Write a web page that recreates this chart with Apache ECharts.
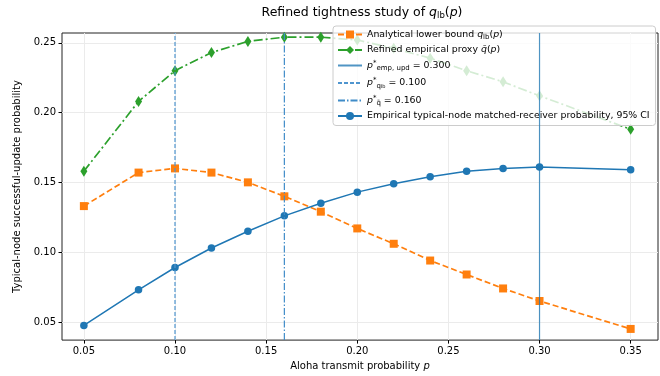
<!DOCTYPE html>
<html>
<head>
<meta charset="utf-8">
<script src="https://cdn.jsdelivr.net/npm/echarts@6/dist/echarts.min.js"></script>
<style>
  html, body { margin: 0; padding: 0; background: #fff; }
  #chart { width: 660px; height: 376px; }
</style>
</head>
<body>
<div id="chart"></div>
<script>
// transmit probabilities on the x axis
const pValues = [0.05, 0.08, 0.10, 0.12, 0.14, 0.16, 0.18, 0.20, 0.22, 0.24, 0.26, 0.28, 0.30, 0.35];

// empirical matched-receiver probability (blue)
const empirical = [0.0475, 0.073, 0.089, 0.103, 0.115, 0.126, 0.135, 0.143, 0.149, 0.154, 0.158, 0.160, 0.161, 0.159];
// analytical lower bound q_lb(p) (orange)
const lowerBound = [0.133, 0.157, 0.160, 0.157, 0.150, 0.140, 0.129, 0.117, 0.106, 0.094, 0.084, 0.074, 0.065, 0.045];
// refined empirical proxy (green)
const proxy = [0.158, 0.208, 0.230, 0.243, 0.251, 0.254, 0.254, 0.252, 0.246, 0.239, 0.230, 0.222, 0.212, 0.188];

// optimum markers
const pEmpUpd = 0.300;
const pQlb = 0.100;
const pQbar = 0.160;

const xTicks = [0.05, 0.10, 0.15, 0.20, 0.25, 0.30, 0.35];
const yTicks = [0.05, 0.10, 0.15, 0.20, 0.25];

const xMin = 0.038, xMax = 0.365;
const yMin = 0.037, yMax = 0.257;

const font = 'DejaVu Sans';
const vColor = 'rgba(31,119,180,0.78)';

const vline = (x) => [[x, yMin], [x, yMax]];

// legend labels with math-ish rich text
const labels = {
  lb: 'Analytical lower bound {i|q}{sub|lb}{n|(}{i|p}{n|)}',
  proxy: 'Refined empirical proxy {i|q̄}{n|(}{i|p}{n|)}',
  pemp: '{i|p}{sup|*}{sub|emp, upd}{n| = 0.300}',
  pqlb: '{i|p}{sup|*}{sub|q}{subsub|lb}{n| = 0.100}',
  pq: '{i|p}{sup|*}{sub|q̄}{n| = 0.160}',
  emp: 'Empirical typical-node matched-receiver probability, 95% CI',
};

const chart = echarts.init(document.getElementById('chart'));

chart.setOption({
  animation: false,
  textStyle: { fontFamily: font },
  title: {
    text: 'Refined tightness study of {i|q}{sub|lb}{n|(}{i|p}{n|)}',
    left: 357,
    textAlign: 'center',
    top: 0,
    textStyle: {
      fontSize: 12.5,
      fontWeight: 'normal',
      color: '#000',
      rich: {
        n: { fontSize: 12.5, color: '#000' },
        i: { fontSize: 12.5, fontStyle: 'italic', color: '#000' },
        sub: { fontSize: 8.5, color: '#000', verticalAlign: 'bottom', padding: [6, 0, 0, 0] },
      },
    },
  },
  grid: {
    left: 62,
    right: 2,
    top: 33,
    bottom: 33,
    show: true,
    borderColor: '#222',
    borderWidth: 1,
  },
  legend: {
    orient: 'vertical',
    left: 333,
    top: 26,
    padding: [4, 6, 5, 4],
    itemGap: 5,
    itemWidth: 24,
    itemHeight: 10,
    backgroundColor: 'rgba(255,255,255,0.8)',
    borderColor: '#ccc',
    borderWidth: 1,
    borderRadius: 3,
    data: [
      'lb',
      'proxy',
      { name: 'pemp', itemStyle: { opacity: 0 } },
      { name: 'pqlb', itemStyle: { opacity: 0 } },
      { name: 'pq', itemStyle: { opacity: 0 } },
      'emp',
    ],
    formatter: (name) => labels[name],
    textStyle: {
      fontSize: 9.4,
      color: '#000',
      rich: {
        n: { fontSize: 9.4, color: '#000' },
        i: { fontSize: 9.4, fontStyle: 'italic', color: '#000' },
        sub: { fontSize: 7, color: '#000', verticalAlign: 'bottom', padding: [5, 0, 0, 0] },
        subsub: { fontSize: 5, color: '#000', verticalAlign: 'bottom', padding: [8, 0, 0, 0] },
        sup: { fontSize: 7, color: '#000', verticalAlign: 'top', padding: [0, 0, 5, 0] },
      },
    },
  },
  xAxis: {
    type: 'value',
    min: xMin,
    max: xMax,
    name: 'Aloha transmit probability {i|p}',
    nameLocation: 'middle',
    nameGap: 20,
    nameTextStyle: {
      fontSize: 10,
      color: '#000',
      rich: { i: { fontSize: 10, fontStyle: 'italic', color: '#000' } },
    },
    axisLine: { show: false },
    axisTick: { show: true, length: 3.5, lineStyle: { color: '#000' }, customValues: xTicks },
    axisLabel: {
      fontSize: 10,
      color: '#000',
      margin: 6,
      customValues: xTicks,
      formatter: (v) => v.toFixed(2),
    },
    splitLine: { show: true, lineStyle: { color: '#ebebeb', width: 1 } },
  },
  yAxis: {
    type: 'value',
    min: yMin,
    max: yMax,
    name: 'Typical-node successful-update probability',
    nameLocation: 'middle',
    nameGap: 40,
    nameTextStyle: { fontSize: 10, color: '#000' },
    axisLine: { show: false },
    axisTick: { show: true, length: 3.5, lineStyle: { color: '#000' }, customValues: yTicks },
    axisLabel: {
      fontSize: 10,
      color: '#000',
      margin: 6,
      customValues: yTicks,
      formatter: (v) => v.toFixed(2),
    },
    splitLine: { show: true, lineStyle: { color: '#ebebeb', width: 1 } },
  },
  series: [
    {
      name: 'lb',
      type: 'line',
      data: pValues.map((p, i) => [p, lowerBound[i]]),
      symbol: 'rect',
      symbolSize: 8,
      itemStyle: { color: '#ff7f0e' },
      lineStyle: { color: '#ff7f0e', width: 1.7, type: [6, 3] },
      z: 3,
    },
    {
      name: 'proxy',
      type: 'line',
      data: pValues.map((p, i) => [p, proxy[i]]),
      symbol: 'diamond',
      symbolSize: [7, 11],
      itemStyle: { color: '#2ca02c' },
      lineStyle: { color: '#2ca02c', width: 1.7, type: [9, 3, 2, 3] },
      z: 3,
    },
    {
      name: 'pemp',
      type: 'line',
      data: vline(pEmpUpd),
      symbol: 'none',
      itemStyle: { color: vColor },
      lineStyle: { color: vColor, width: 1.2, type: 'solid' },
      z: 4,
    },
    {
      name: 'pqlb',
      type: 'line',
      data: vline(pQlb),
      symbol: 'none',
      itemStyle: { color: '#4f95cf' },
      lineStyle: { color: '#4f95cf', width: 1.2, type: [4, 2] },
      z: 4,
    },
    {
      name: 'pq',
      type: 'line',
      data: vline(pQbar),
      symbol: 'none',
      itemStyle: { color: '#3f8cc8' },
      lineStyle: { color: '#3f8cc8', width: 1.2, type: [7, 2, 1.5, 2] },
      z: 4,
    },
    {
      name: 'emp',
      type: 'line',
      data: pValues.map((p, i) => [p, empirical[i]]),
      symbol: 'circle',
      symbolSize: 7.5,
      itemStyle: { color: '#1f77b4' },
      lineStyle: { color: '#1f77b4', width: 1.5 },
      z: 3,
    },
  ],
});
</script>
</body>
</html>
